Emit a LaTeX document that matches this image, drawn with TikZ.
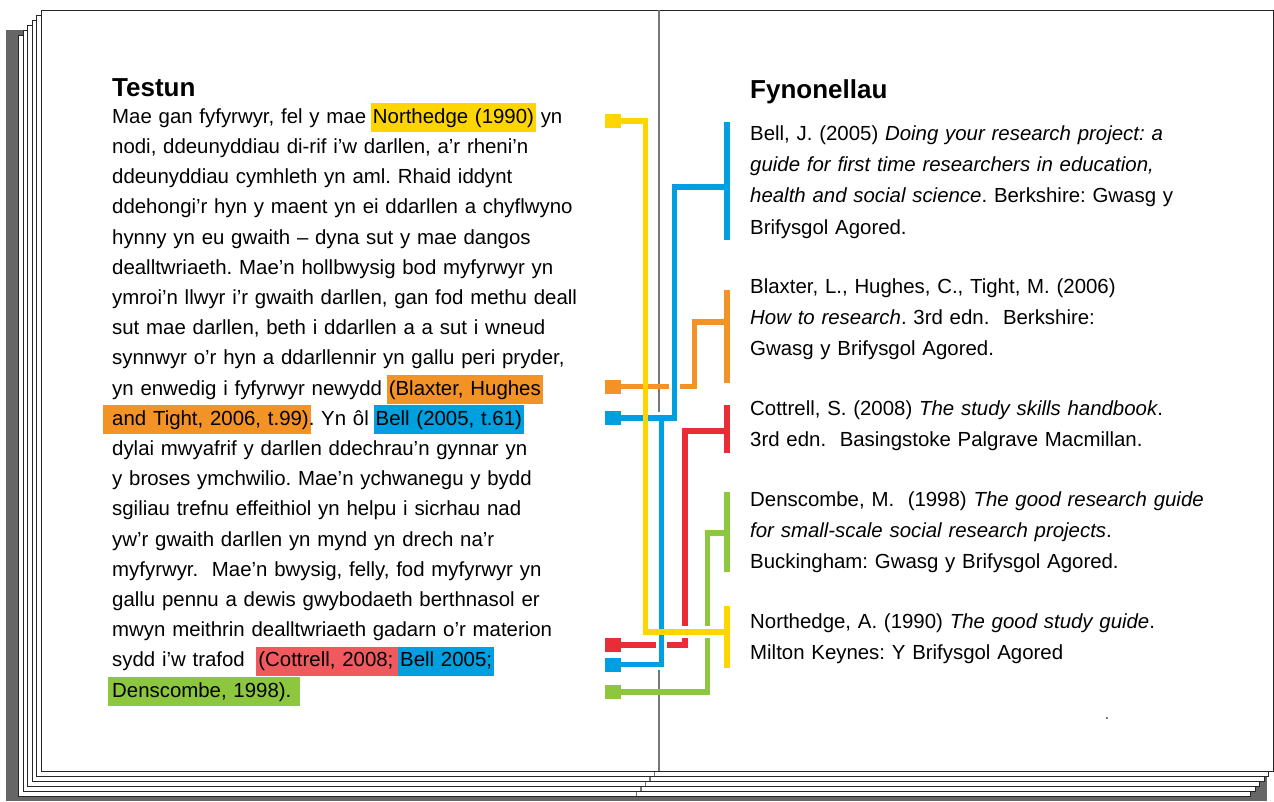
\documentclass[tikz,border=0pt]{standalone}
\usepackage{fontspec}
\setmainfont{Liberation Sans}

\definecolor{cyellow}{HTML}{FFD500}
\definecolor{corange}{HTML}{F39325}
\definecolor{cblue}{HTML}{009FDF}
\definecolor{cred}{HTML}{E92D37}
\definecolor{hlred}{HTML}{F05A5E}
\definecolor{cgreen}{HTML}{8DC63F}
\definecolor{shadowgray}{HTML}{666666}
\definecolor{spinegray}{HTML}{777777}

\setlength{\fboxsep}{0pt}
\setlength{\parindent}{0pt}
% highlighted citation, box drawn behind the words without moving them
\newcommand{\hlmark}[3][2pt]{\kern-#1\relax\colorbox{#2}{\rule[-9pt]{0pt}{29pt}\kern#1\relax #3\kern2pt\relax}\kern-2pt\relax}

\tikzset{
  page/.style={fill=white, draw=black!85, line width=1pt},
  spine/.style={draw=spinegray, line width=1.6pt},
  heading/.style={anchor=base west, inner sep=0pt, font=\fontsize{26pt}{30pt}\selectfont\bfseries},
  bodytext/.style={anchor=north west, inner sep=0pt, text width=520pt, align=left,
    font=\fontsize{20.4pt}{30.2pt}\selectfont},
  reftext/.style={anchor=north west, inner sep=0pt, text width=500pt, align=left,
    font=\fontsize{20.4pt}{31.3pt}\selectfont},
  marker/.style={fill=#1, minimum width=16pt, minimum height=14pt, inner sep=0pt},
  cite/.style={line width=5.5pt},
  casing/.style={preaction={draw=white, line width=11.5pt}},
  gap/.style={draw=white, line width=11.5pt}
}

\begin{document}
\frenchspacing
\begin{tikzpicture}[x=1pt, y=-1pt]
    \useasboundingbox (0,0) rectangle (1274,801);

    % Stack of pages
    \fill[shadowgray] (6,30) rectangle (1267,801);
    \foreach \k in {5,4,...,1}{
      \begin{scope}[shift={(-4.5*\k,5*\k)}]
        \draw[page] (41,10) rectangle (1273,771);
        \draw[spine] (659,10) -- (659,771);
      \end{scope}
    }
    \draw[page] (41,10) rectangle (1273,771);
    \draw[spine] (659,10) -- (659,771);
    \fill[black!50] (1106,717) rectangle (1108,719);

    % Left page: text
    \node[heading] (testun) at (112,96) {Testun};
    \node[bodytext] (body) at (112,101.86) {\strut Mae gan fyfyrwyr, fel y mae \hlmark{cyellow}{Northedge (1990)} yn\\
      nodi, ddeunyddiau di-rif i’w darllen, a’r rheni’n\\
      ddeunyddiau cymhleth yn aml. Rhaid iddynt\\
      ddehongi’r hyn y maent yn ei ddarllen a chyflwyno\\
      hynny yn eu gwaith – dyna sut y mae dangos\\
      dealltwriaeth. Mae’n hollbwysig bod myfyrwyr yn\\
      ymroi’n llwyr i’r gwaith darllen, gan fod methu deall\\
      sut mae darllen, beth i ddarllen a a sut i wneud\\
      synnwyr o’r hyn a ddarllennir yn gallu peri pryder,\\
      yn enwedig i fyfyrwyr newydd \hlmark{corange}{(Blaxter, Hughes}\\
      \mbox{}\hlmark[9pt]{corange}{and Tight, 2006, t.99)}. Yn ôl \hlmark{cblue}{Bell (2005, t.61)}\\
      dylai mwyafrif y darllen ddechrau’n gynnar yn\\
      y broses ymchwilio. Mae’n ychwanegu y bydd\\
      sgiliau trefnu effeithiol yn helpu i sicrhau nad\\
      yw’r gwaith darllen yn mynd yn drech na’r\\
      myfyrwyr.\ \ Mae’n bwysig, felly, fod myfyrwyr yn\\
      gallu pennu a dewis gwybodaeth berthnasol er\\
      mwyn meithrin dealltwriaeth gadarn o’r materion\\
      sydd i’w trafod\ \ \hlmark{hlred}{(Cottrell, 2008;\ }\hlmark{cblue}{Bell 2005;}\\
      \mbox{}\hlmark[4pt]{cgreen}{Denscombe, 1998).\ }};

    % Right page: references
    \node[heading] (fynon) at (750,98) {Fynonellau};
    \node[reftext] (refbell) at (750,118.09) {\strut Bell, J. (2005) \textit{Doing your research project: a}\\
      \textit{guide for first time researchers in education,}\\
      \textit{health and social science}. Berkshire: Gwasg y\\
      Brifysgol Agored.};
    \node[reftext] (refblax) at (750,271.09) {\strut Blaxter, L., Hughes, C., Tight, M. (2006)\\
      \textit{How to research}. 3rd edn.\ \ Berkshire:\\
      Gwasg y Brifysgol Agored.};
    \node[reftext] (refcott) at (750,393.09) {\strut Cottrell, S. (2008) \textit{The study skills handbook}.\\
      3rd edn.\ \ Basingstoke Palgrave Macmillan.};
    \node[reftext] (refdens) at (750,484.09) {\strut Denscombe, M.\ \ (1998) \textit{The good research guide}\\
      \textit{for small-scale social research projects}.\\
      Buckingham: Gwasg y Brifysgol Agored.};
    \node[reftext] (refnorth) at (750,606.09) {\strut Northedge, A. (1990) \textit{The good study guide}.\\
      Milton Keynes: Y Brifysgol Agored};

    % Citation markers
    \node[marker=cyellow] (sqnorth) at (613,121) {};
    \node[marker=corange] (sqblax) at (613,386.5) {};
    \node[marker=cblue] (sqbellA) at (613,418) {};
    \node[marker=cred] (sqcott) at (613,645) {};
    \node[marker=cblue] (sqbellB) at (613,664.5) {};
    \node[marker=cgreen] (sqdens) at (613,692) {};

    % Brackets beside the references
    \coordinate (bell-top) at (727,122);  \coordinate (bell-bot) at (727,240);  \coordinate (bell-mid) at (727,187);
    \coordinate (blax-top) at (727,290);  \coordinate (blax-bot) at (727,383);  \coordinate (blax-mid) at (727,322);
    \coordinate (cott-top) at (727,405);  \coordinate (cott-bot) at (727,453);  \coordinate (cott-mid) at (727,431);
    \coordinate (dens-top) at (727,492);  \coordinate (dens-bot) at (727,572);  \coordinate (dens-mid) at (727,533);
    \coordinate (north-top) at (727,606); \coordinate (north-bot) at (727,668); \coordinate (north-mid) at (727,632);

    % Knees of the connectors
    \coordinate (bell-knee) at (674.5,187);
    \coordinate (bell-join) at (661.5,418);
    \coordinate (blax-knee) at (694.5,322);
    \coordinate (cott-knee) at (685,431);
    \coordinate (dens-knee) at (707.5,533);
    \coordinate (north-knee) at (645.5,632);

    % Connectors
    \draw[cite, corange] (sqblax.east) -| (blax-knee) -- (blax-mid);
    \draw[cite, cred] (sqcott.east) -| (cott-knee) -- (cott-mid);
    \draw[cite, cgreen] (sqdens.east) -| (dens-knee) -- (dens-mid);
    \draw[gap] (north-knee) -- (north-mid);
    \draw[cite, cblue, casing] (sqbellA.east) -| (bell-knee) -- (bell-mid)
                               (sqbellB.east) -| (bell-join);
    \draw[cite, cyellow] (sqnorth.east) -| (north-knee) -- (north-mid);

    \foreach \r/\c in {bell/cblue, blax/corange, cott/cred, dens/cgreen, north/cyellow}
      \draw[cite, \c] (\r-top) -- (\r-bot);
\end{tikzpicture}
\end{document}
